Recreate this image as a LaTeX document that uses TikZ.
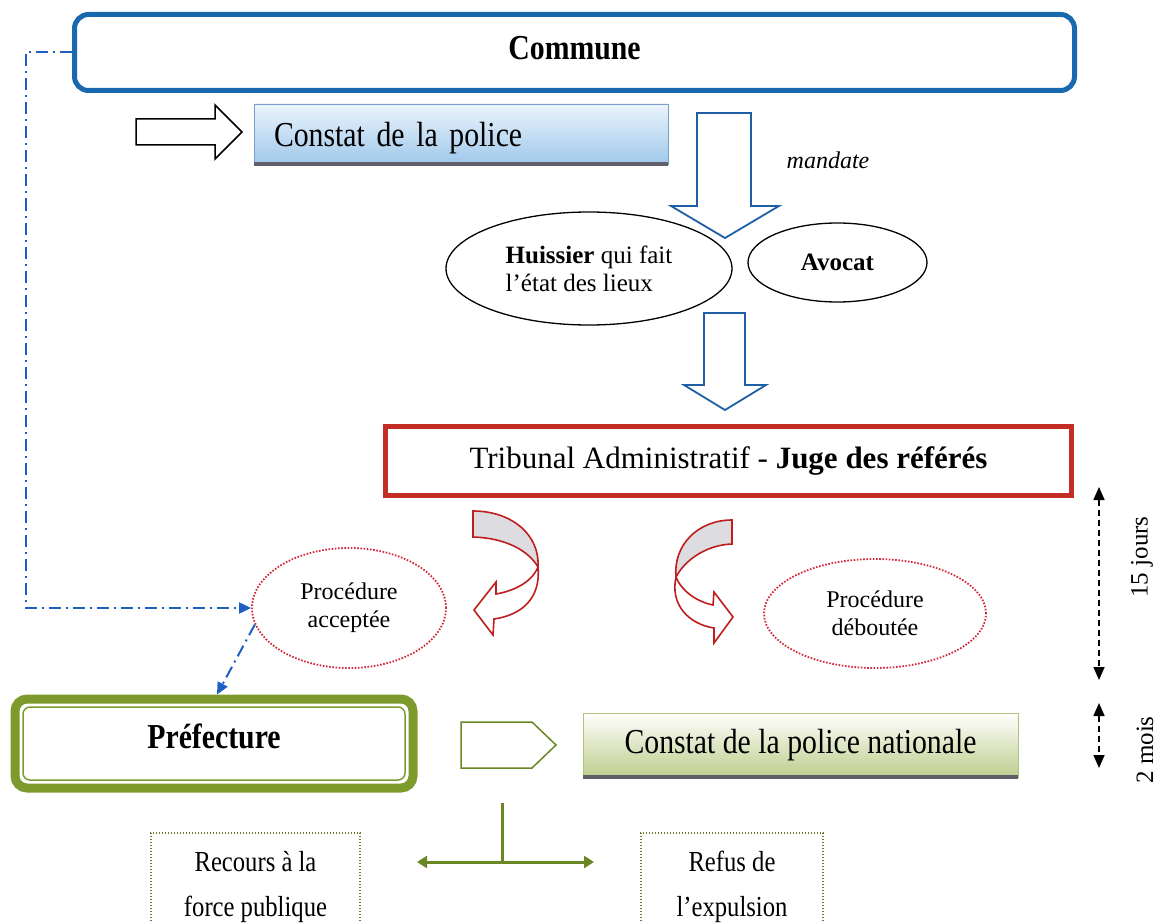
\documentclass[tikz,border=0pt]{standalone}
\usepackage{fontspec}
\setmainfont{Liberation Serif}
\newfontfamily\condf[FakeStretch=0.85]{Liberation Serif}
\usetikzlibrary{shapes.geometric,arrows.meta}
\definecolor{cblue}{RGB}{25,105,175}
\definecolor{dblue}{RGB}{30,95,195}
\definecolor{arrblue}{RGB}{30,95,165}
\definecolor{tred}{RGB}{195,45,35}
\definecolor{dred}{RGB}{210,40,60}
\definecolor{cred}{RGB}{190,30,30}
\definecolor{pgreen}{RGB}{125,155,45}
\definecolor{lgreen}{RGB}{190,205,140}
\definecolor{dgreen}{RGB}{105,135,35}
\definecolor{olivec}{RGB}{115,115,50}
\definecolor{lblueT}{RGB}{235,244,252}
\definecolor{lblueB}{RGB}{160,200,235}
\definecolor{shadowc}{RGB}{95,95,105}
\definecolor{grayfill}{RGB}{220,220,225}
\begin{document}
\begin{tikzpicture}[x=1pt,y=-1pt,
  bigfont/.style={font=\condf\fontsize{35}{38}\selectfont},
  bigbold/.style={font=\condf\bfseries\fontsize{35}{38}\selectfont},
  blockarrow/.style={arrblue, line width=1.8pt, fill=white},
  curvearrow/.style={cred, line width=1.6pt, fill=white},
  curveband/.style={cred, line width=1.6pt, fill=grayfill},
  plainell/.style={ellipse, draw, line width=1.3pt, inner sep=0pt},
  dotell/.style={ellipse, draw=dred, line width=1.8pt, dash pattern=on 1.6pt off 1.6pt, inner sep=0pt, align=center, font=\fontsize{24}{28}\selectfont},
  dashdot/.style={dblue, line width=2pt, dash pattern=on 12pt off 5pt on 2pt off 5pt, -{Triangle[length=12pt,width=11pt]}},
  timearrow/.style={line width=1.6pt, dash pattern=on 6pt off 4pt, {Triangle[length=13pt,width=11pt]}-{Triangle[length=13pt,width=11pt]}},
  dotbox/.style={draw=olivec, line width=1.4pt, dash pattern=on 1.4pt off 1.6pt, align=center, font=\condf\fontsize{29}{45}\selectfont},
  shadowline/.style={shadowc, line width=4pt}
]
\useasboundingbox (0,0) rectangle (1157,923);
\clip (0,0) rectangle (1157,923);

% Commune
\node[draw=cblue, line width=5pt, rounded corners=14pt, minimum width=1000pt, minimum height=76pt, text depth=9pt, bigbold] (commune) at (574.5,52.5) {Commune};

% Constat de la police
\node[draw=arrblue!60, line width=0.8pt, top color=lblueT, bottom color=lblueB, minimum width=414pt, minimum height=60pt, text width=374pt, inner xsep=20pt, align=left, text depth=0pt, bigfont] (cpol) at (461,134) {Constat de la police};
\draw[shadowline] (cpol.south west) -- (cpol.south east);
\draw[black, line width=1.5pt, fill=white] (136,119) -- (215,119) -- (215,105) -- (242,132) -- (215,159) -- (215,145) -- (136,145) -- cycle;

% mandate arrow
\draw[blockarrow] (697,113) -- (697,206) -- (671,206) -- (725,238) -- (779,206) -- (751,206) -- (751,113) -- cycle;
\node[font=\itshape\fontsize{24}{28}\selectfont, anchor=base] (mand) at (828,168) {mandate};

% Huissier, Avocat
\node[plainell, minimum width=286pt, minimum height=113pt, align=left, font=\fontsize{25}{28}\selectfont] (huis) at (589,268.5) {\textbf{Huissier} qui fait\\l’état des lieux};
\node[plainell, minimum width=179pt, minimum height=79pt, font=\bfseries\fontsize{25}{28}\selectfont] (avo) at (837.5,262.5) {Avocat};

\draw[blockarrow] (704,313) -- (704,385) -- (684,385) -- (725,410) -- (766,385) -- (745,385) -- (745,313) -- cycle;

% Tribunal
\node[draw=tred, line width=5pt, minimum width=686pt, minimum height=69pt, font=\fontsize{31}{34}\selectfont] (trib) at (728.5,461) {Tribunal Administratif - \textbf{Juge des référés}};

% curved arrows
\draw[curvearrow] (538,567) .. controls (532,582) and (514,591) .. (496,594) -- (496,582) -- (474,610) -- (493,635) -- (494,619) .. controls (522,615) and (541,598) .. (538,567) -- cycle;
\draw[curveband] (473,511) .. controls (512,511) and (540,535) .. (538,567) .. controls (528,550) and (505,538) .. (473,537) -- cycle;
\draw[curvearrow] (676,577) .. controls (682,592) and (698,602) .. (713,605) -- (714,592) -- (733,617) -- (714,643) -- (714,628) .. controls (688,624) and (670,604) .. (676,577) -- cycle;
\draw[curveband] (732,520) .. controls (698,520) and (673,545) .. (676,577) .. controls (685,560) and (706,545) .. (732,544) -- cycle;

% procedures
\node[dotell, minimum width=194pt, minimum height=120pt] (pacc) at (349,608) {Procédure\\acceptée};
\node[dotell, minimum width=222pt, minimum height=109pt] (pdeb) at (875,613.5) {Procédure\\déboutée};

% Prefecture
\node[draw=pgreen, line width=9pt, rounded corners=12pt, minimum width=398pt, minimum height=89pt, text depth=14pt, bigbold] (pref) at (214,743.5) {Préfecture};
\draw[pgreen, line width=1.5pt, rounded corners=7pt] ([shift={(12.5,12.5)}]pref.north west) rectangle ([shift={(-12.5,-12.5)}]pref.south east);

% dash-dot connectors
\draw[dashdot] (commune.west) -- (26,52.5) |- (pacc.west);
\draw[dashdot] (pacc.190) -- ([xshift=3pt]pref.north);

% Constat police nationale
\node[draw=pgreen!60, line width=0.8pt, top color=white, bottom color=lgreen, minimum width=435pt, minimum height=64pt, bigfont] (cnat) at (800.5,745) {Constat de la police nationale};
\draw[shadowline] (cnat.south west) -- (cnat.south east);
\draw[dgreen, line width=1.5pt, fill=white] (461,722) -- (532,722) -- (556,745) -- (532,768) -- (461,768) -- cycle;

% time arrows
\coordinate (t1a) at (1099,487);
\coordinate (t1b) at (1099,680);
\coordinate (t2a) at (1099,703);
\coordinate (t2b) at (1099,768);
\draw[timearrow] (t1a) -- (t1b);
\draw[timearrow] (t2a) -- (t2b);
\node[rotate=90, font=\fontsize{25}{28}\selectfont] (j15) at (1142,557) {15 jours};
\node[rotate=90, font=\fontsize{25}{28}\selectfont] (m2) at (1145,750) {2 mois};

% bottom branch
\coordinate (bt) at (502,803);
\coordinate (bm) at (502,862);
\coordinate (bl) at (417,862);
\coordinate (br) at (594,862);
\draw[dgreen, line width=3pt] (bt) -- (bm);
\draw[dgreen, line width=3pt, {Triangle[length=10pt,width=12pt]}-{Triangle[length=10pt,width=12pt]}] (bl) -- (br);

\node[dotbox, minimum width=209pt, minimum height=107pt] (rec) at (255.5,886.5) {Recours à la\\force publique};
\node[dotbox, minimum width=182pt, minimum height=107pt] (ref) at (732,886.5) {Refus de\\l’expulsion};
\end{tikzpicture}
\end{document}
